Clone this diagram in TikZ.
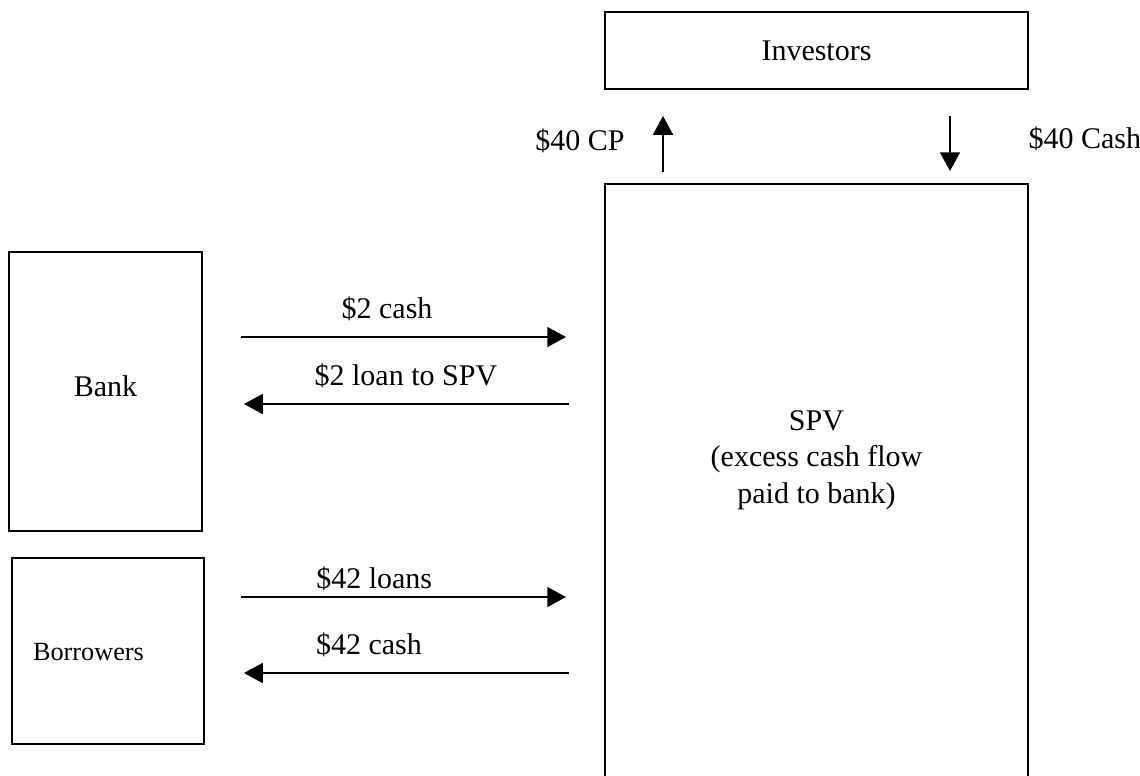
\documentclass[12pt,tikz,border=0pt]{standalone}
\usepackage{fontspec}
\setmainfont{Liberation Serif}
\usetikzlibrary{arrows.meta}
\begin{document}
\begin{tikzpicture}[x=0.4pt,y=-0.4pt,
 box/.style ={rectangle, draw=black, line width=0.8pt, inner sep=0pt},
 flow/.style ={draw, line width=0.6pt, -{Triangle[length=7.5pt,width=8pt]}},
 lbl/.style ={inner sep=0pt, text depth=0pt}]
\useasboundingbox (0,0) rectangle (1140,775);
\clip (0,0) rectangle (1140,775);

\draw (816.5,50.5) node[box, minimum width=169.2pt, minimum height=30.8pt] (inv) {Investors};
\draw (816.5,492) node[box, minimum width=169.2pt, minimum height=246.4pt,
 label={[align=center, yshift=12.8pt]center:{SPV\\(excess cash flow\\paid to bank)}}] (spv) {};

\draw (105.5,391.5) node[box, minimum width=77.2pt, minimum height=111.6pt,
 label={[anchor=base, yshift=2.2pt]center:Bank}] (bank) {};
\draw (108,651) node[box, minimum width=76.8pt, minimum height=74.4pt,
 label={[anchor=base, xshift=-7.8pt, yshift=-0.4pt, font=\fontsize{10.5}{12}\selectfont]center:Borrowers}] (borr) {};

\draw (625,150) node[lbl, anchor=base east] (cpLbl) {\$40 CP};
\draw (1028,148) node[lbl, anchor=base west] (cashLbl) {\$40 Cash};

\coordinate (colA) at (663,0);
\coordinate (colB) at (950,0);
\coordinate (rowA) at (0,337);
\coordinate (rowB) at (0,404);
\coordinate (rowC) at (0,597);
\coordinate (rowD) at (0,673);

	\draw [flow, shorten <=4.4pt, shorten >=10.4pt] (spv.north -| colA) to (inv.south -| colA);
	\draw [flow, shorten <=10.4pt, shorten >=4.8pt] (inv.south -| colB) to (spv.north -| colB);

	\draw [flow, shorten <=15.2pt, shorten >=15.2pt] (bank.east |- rowA) to node[lbl, above=7.2pt, pos=0.459]{\$2 cash} (spv.west |- rowA);
	\draw [flow, shorten <=14pt, shorten >=16.4pt] (spv.west |- rowB) to node[lbl, above=7.2pt, pos=0.494]{\$2 loan to SPV} (bank.east |- rowB);

	\draw [flow, shorten <=14.4pt, shorten >=15.2pt] (borr.east |- rowC) to node[lbl, above=3.2pt, pos=0.424]{\$42 loans} (spv.west |- rowC);
	\draw [flow, shorten <=14pt, shorten >=15.6pt] (spv.west |- rowD) to node[lbl, above=7.2pt, pos=0.589]{\$42 cash} (borr.east |- rowD);

\end{tikzpicture}
\end{document}
